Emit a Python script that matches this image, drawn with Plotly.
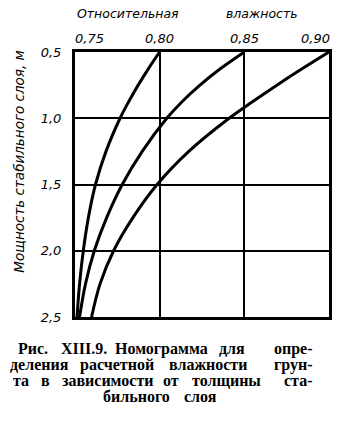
import plotly.graph_objects as go

# Data (depth of stable layer, m -> relative moisture)
depth = [0.5, 0.625, 0.75, 0.875, 1.0, 1.25, 1.5, 1.75, 2.0, 2.25, 2.5]
moist1 = [0.800, 0.7934, 0.7873, 0.7817, 0.7766, 0.7683, 0.7621, 0.7579, 0.7549, 0.7527, 0.7512]
moist2 = [0.850, 0.8360, 0.8238, 0.8132, 0.8042, 0.7897, 0.7779, 0.7687, 0.7614, 0.7562, 0.7527]
moist3 = [0.900, 0.8843, 0.8692, 0.8548, 0.8410, 0.8172, 0.7985, 0.7842, 0.7728, 0.7648, 0.7598]

x_ticks = [0.75, 0.80, 0.85, 0.90]
x_labels = ["0,75", "0,80", "0,85", "0,90"]
y_ticks = [0.5, 1.0, 1.5, 2.0, 2.5]
y_labels = ["0,5", "1,0", "1,5", "2,0", "2,5"]

x_title = ["Относительная", "влажность"]
x_title_x = [129, 264]
y_title = "Мощность стабильного слоя, м"
caption = [
    ["Рис.", "XIII.9.", "Номограмма", "для", "опре-"],
    ["деления", "расчетной", "влажности", "грун-"],
    ["та", "в", "зависимости", "от", "толщины", "ста-"],
    ["бильного", "слоя"],
]
# word centres (px) and line centres (px) for the justified caption
caption_x = [
    [32, 84, 163, 234, 296],
    [39, 118, 210, 296],
    [20, 45, 108, 172, 228, 301],
    [137, 202],
]
caption_y = [348.5, 364.5, 380.5, 396.5]

W, H = 337, 422
L, R, T, B = 75, 5, 52, 105
pw, ph = W - L - R, H - T - B


def px(x):
    return (x - L) / pw


def py(y):
    return 1 - (y - T) / ph


fig = go.Figure()
for xs in (moist1, moist2, moist3):
    fig.add_trace(go.Scatter(x=xs, y=depth, mode="lines",
                             line=dict(color="black", width=3, shape="spline", smoothing=1.0),
                             showlegend=False, hoverinfo="skip"))

tick_font = dict(family="DejaVu Sans", size=13, color="black")
fig.update_xaxes(range=[0.75, 0.90], side="top", tickvals=x_ticks,
                 showticklabels=False,
                 showgrid=True, gridcolor="black", gridwidth=2,
                 showline=True, linecolor="black", linewidth=3, mirror=True,
                 ticks="", zeroline=False)
fig.update_yaxes(range=[2.5, 0.5], tickvals=y_ticks,
                 ticktext=[f"<i>{t}</i>" for t in y_labels], tickfont=tick_font,
                 showgrid=True, gridcolor="black", gridwidth=2,
                 showline=True, linecolor="black", linewidth=3, mirror=True,
                 ticks="", zeroline=False, ticklabelstandoff=8)

ann = []
for v, lab in zip(x_ticks, x_labels):
    ann.append(dict(text=f"<i>{lab}</i>", x=v, y=py(38), xref="x", yref="paper",
                    showarrow=False, font=tick_font,
                    xanchor="right" if v == x_ticks[-1] else "center", yanchor="middle",
                    xshift=3 if v == x_ticks[-1] else (14 if v == x_ticks[0] else 0)))
for w, xx in zip(x_title, x_title_x):
    ann.append(dict(text=f"<i>{w}</i>", x=px(xx), y=py(13), xref="paper", yref="paper",
                    showarrow=False, font=dict(family="DejaVu Sans", size=12.5, color="black"),
                    xanchor="center", yanchor="middle"))
ann.append(dict(text=f"<i>{y_title}</i>", x=px(18), y=py(162), xref="paper", yref="paper",
                showarrow=False, textangle=-90,
                font=dict(family="DejaVu Sans", size=13.5, color="black"),
                xanchor="center", yanchor="middle"))
for words, xs, yy in zip(caption, caption_x, caption_y):
    for w, xx in zip(words, xs):
        ann.append(dict(text=f"<b>{w}</b>", x=px(xx), y=py(yy), xref="paper", yref="paper",
                        showarrow=False, xanchor="center", yanchor="middle",
                        font=dict(family="Liberation Serif", size=16, color="black")))

fig.update_layout(width=W, height=H, margin=dict(l=L, r=R, t=T, b=B, pad=0),
                  plot_bgcolor="white", paper_bgcolor="white", annotations=ann)
fig.write_html("out.html")
